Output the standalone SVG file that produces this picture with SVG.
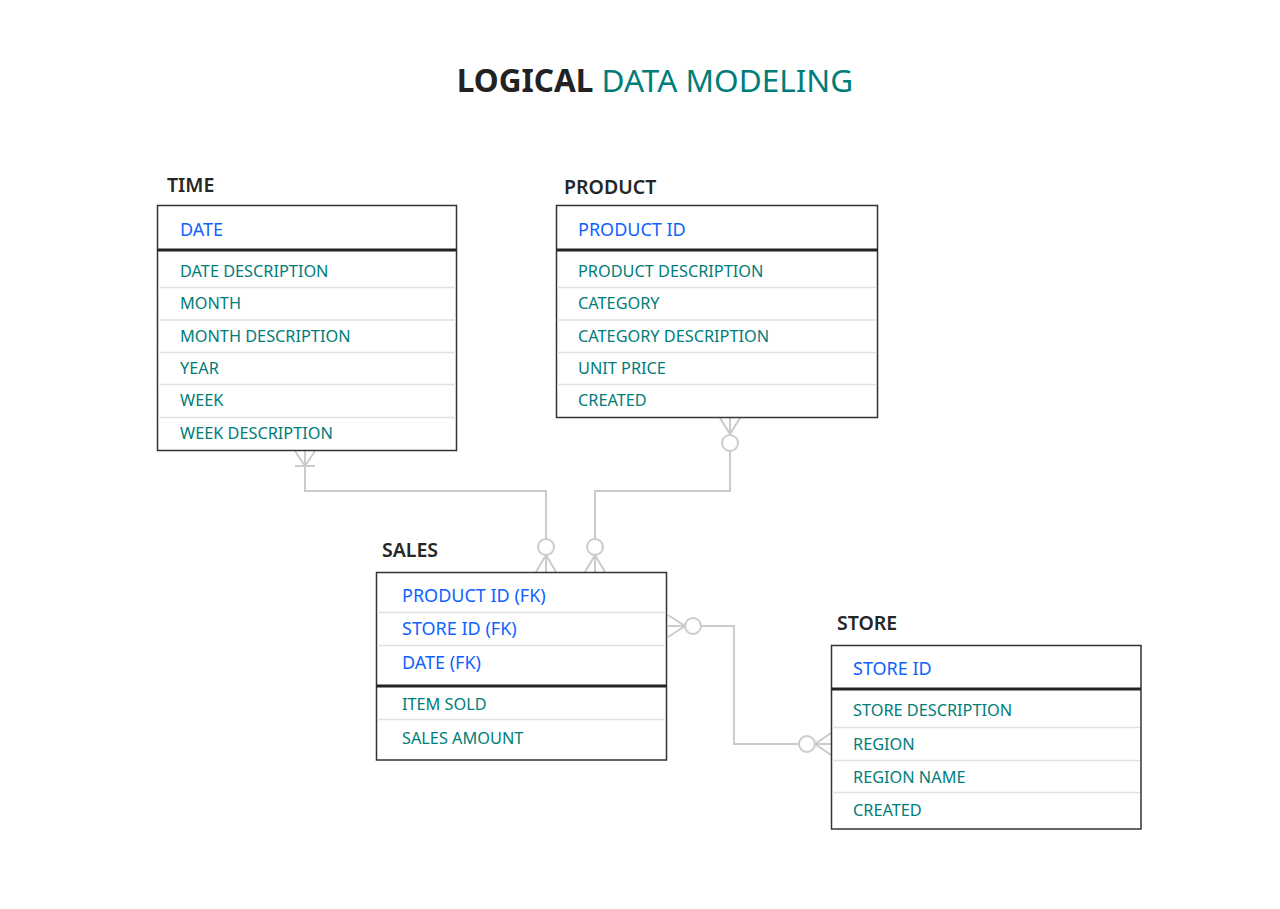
<svg xmlns="http://www.w3.org/2000/svg" width="1280" height="909" viewBox="0 0 1280 909">
<style>
text{font-family:"Noto Sans","Liberation Sans",sans-serif}
.title{font-size:31.5px}
.tb{font-weight:700;fill:#222}
.tt{fill:#007d79}
.lbl{font-size:19.5px;font-weight:600;fill:#262626}
.box{fill:#fff;stroke:#333;stroke-width:1.5}
.div{stroke:#222;stroke-width:3}
.row{stroke:#e0e0e0;stroke-width:1.5}
.pk{font-size:18px;fill:#0f62fe}
.at{font-size:16.3px;fill:#007d79}
.cn{fill:none;stroke:#cbcbcb;stroke-width:2}
.cc{fill:#fff;stroke:#cbcbcb;stroke-width:2}
</style>
<rect width="1280" height="909" fill="#fff"/>
<text class="title" x="655" y="92" text-anchor="middle"><tspan class="tb">LOGICAL</tspan> <tspan class="tt">DATA MODELING</tspan></text>

<g id="connectors">
  <!-- TIME to SALES -->
  <path class="cn" d="M305,451 V491 H546 V539"/>
  <path class="cn" d="M295,451 L305,466 L315,451 M295,466 H315"/>
  <circle class="cc" cx="546" cy="547" r="8"/>
  <path class="cn" d="M536,572 L546,555 L556,572 M546,555 V572"/>
  <!-- PRODUCT to SALES -->
  <path class="cn" d="M720,418 L730,434 L740,418 M730,418 V435"/>
  <circle class="cc" cx="730" cy="443" r="8"/>
  <path class="cn" d="M730,451 V491 H595 V539"/>
  <circle class="cc" cx="595" cy="547" r="8"/>
  <path class="cn" d="M585,572 L595,555 L605,572 M595,555 V572"/>
  <!-- SALES to STORE -->
  <path class="cn" d="M668,615 L685,626 L668,637 M668,626 H685"/>
  <circle class="cc" cx="693" cy="626" r="8"/>
  <path class="cn" d="M701,626 H734 V744 H799"/>
  <circle class="cc" cx="807" cy="744" r="8"/>
  <path class="cn" d="M831,733 L815,744 L831,755 M815,744 H831"/>
</g>

<g id="time">
  <text class="lbl" x="167" y="192">TIME</text>
  <rect class="box" x="157.5" y="205.5" width="299" height="245"/>
  <line class="row" x1="158" y1="287.5" x2="456" y2="287.5"/>
  <line class="row" x1="158" y1="320" x2="456" y2="320"/>
  <line class="row" x1="158" y1="352.5" x2="456" y2="352.5"/>
  <line class="row" x1="158" y1="384.5" x2="456" y2="384.5"/>
  <line class="row" x1="158" y1="417.5" x2="456" y2="417.5"/>
  <line class="div" x1="157.5" y1="250" x2="456.5" y2="250"/>
  <text class="pk" x="180" y="236">DATE</text>
  <text class="at" x="180" y="277">DATE DESCRIPTION</text>
  <text class="at" x="180" y="309">MONTH</text>
  <text class="at" x="180" y="342">MONTH DESCRIPTION</text>
  <text class="at" x="180" y="374">YEAR</text>
  <text class="at" x="180" y="406">WEEK</text>
  <text class="at" x="180" y="439">WEEK DESCRIPTION</text>
</g>

<g id="product">
  <text class="lbl" x="564" y="194">PRODUCT</text>
  <rect class="box" x="556.5" y="205.5" width="321" height="212"/>
  <line class="row" x1="557" y1="287.5" x2="877" y2="287.5"/>
  <line class="row" x1="557" y1="320" x2="877" y2="320"/>
  <line class="row" x1="557" y1="352.5" x2="877" y2="352.5"/>
  <line class="row" x1="557" y1="384.5" x2="877" y2="384.5"/>
  <line class="div" x1="556.5" y1="250" x2="877.5" y2="250"/>
  <text class="pk" x="578" y="236">PRODUCT ID</text>
  <text class="at" x="578" y="277">PRODUCT DESCRIPTION</text>
  <text class="at" x="578" y="309">CATEGORY</text>
  <text class="at" x="578" y="342">CATEGORY DESCRIPTION</text>
  <text class="at" x="578" y="374">UNIT PRICE</text>
  <text class="at" x="578" y="406">CREATED</text>
</g>

<g id="sales">
  <text class="lbl" x="382" y="557">SALES</text>
  <rect class="box" x="376.5" y="572.5" width="290" height="187.5"/>
  <line class="row" x1="377" y1="612.5" x2="666" y2="612.5"/>
  <line class="row" x1="377" y1="645.5" x2="666" y2="645.5"/>
  <line class="row" x1="377" y1="719.5" x2="666" y2="719.5"/>
  <line class="div" x1="376.5" y1="686" x2="666.5" y2="686"/>
  <text class="pk" x="402" y="602">PRODUCT ID (FK)</text>
  <text class="pk" x="402" y="635">STORE ID (FK)</text>
  <text class="pk" x="402" y="669">DATE (FK)</text>
  <text class="at" x="402" y="710">ITEM SOLD</text>
  <text class="at" x="402" y="744">SALES AMOUNT</text>
</g>

<g id="store">
  <text class="lbl" x="837" y="630">STORE</text>
  <rect class="box" x="831.5" y="645.5" width="309.5" height="183.5"/>
  <line class="row" x1="832" y1="727.5" x2="1140" y2="727.5"/>
  <line class="row" x1="832" y1="760.5" x2="1140" y2="760.5"/>
  <line class="row" x1="832" y1="792.5" x2="1140" y2="792.5"/>
  <line class="div" x1="831.5" y1="689" x2="1141" y2="689"/>
  <text class="pk" x="853" y="675">STORE ID</text>
  <text class="at" x="853" y="716">STORE DESCRIPTION</text>
  <text class="at" x="853" y="750">REGION</text>
  <text class="at" x="853" y="783">REGION NAME</text>
  <text class="at" x="853" y="816">CREATED</text>
</g>
</svg>
